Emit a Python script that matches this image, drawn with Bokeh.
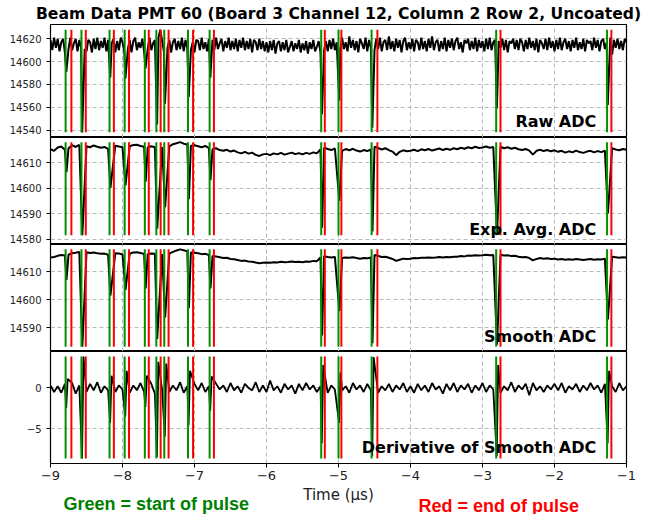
import numpy as np
from bokeh.plotting import figure
from bokeh.models import Range1d, FixedTicker, Label
from bokeh.layouts import column
from bokeh.embed import file_html
from bokeh.resources import INLINE

# ---------------- data ----------------
title_text = "Beam Data PMT 60 (Board 3 Channel 12, Column 2 Row 2, Uncoated)"
panel_names = ["Raw ADC", "Exp. Avg. ADC", "Smooth ADC", "Derivative of Smooth ADC"]
x_label = "Time (\u03bcs)"
legend_green = "Green = start of pulse"
legend_red = "Red = end of pulse"
x_ticks = [-9, -8, -7, -6, -5, -4, -3, -2, -1]
raw_yticks = [14540, 14560, 14580, 14600, 14620]
exp_yticks = [14580, 14590, 14600, 14610]
smooth_yticks = [14590, 14600, 14610]
deriv_yticks = [-5, 0]

# pulse start (green) and end (red) times, microseconds
pulse_start = [-8.79, -8.57, -8.18, -7.97, -7.69, -7.53, -7.42, -7.09, -6.79,
               -5.24, -5.00, -4.54, -2.81, -1.27]
pulse_end = [-8.71, -8.51, -8.12, -7.91, -7.635, -7.47, -7.36, -7.02, -6.73,
             -5.19, -4.96, -4.46, -2.75, -1.21]

# raw ADC: baseline level + sample offsets (every 0.025 us)
raw_level = 14615
raw_offsets = [
    4, -5, 6, -3, 5, -6, 2, 5, -7, 3, -4, 6, -5, 1, 5, -6, 4, -3, 6, -4,
    -6, 4, 2, -7, 5, -4, 6, -5, 3, -3, 6, -6, 4, -4, 1, 5, -7, 3, -5, 6,
    2, -6, 5, -4, 4, -7, 3, 6, -5, 2, -3, 5, -6, 4, -4, 6, -5, 1, 4, -6,
    6, 13, 3, -6, 5, -3, 4, -7, 2, 5, -5, 3, -4, 6, -6, 4, -3, 5, -5, 2,
    -7, 4, 3, -5, 6, -4, 2, -6, 5, -3, 4, -5, 6, -4, 1, 5, -6, 3, -3, 6,
    -5, 3, -4, 5, -6, 4, -3, 6, -5, 3, -4, 5, -7, 4, 2, -5, 5, -4, 3, -6,
    2, -7, 3, -5, 4, -8, 1, 3, -6, 2, -5, 4, -7, -2, 3, -6, 1, -4, 4, -7,
    1, -5, 3, -8, 2, -4, 4, -6, -2, 3, -7, 2, -5, 3, -6, 4, -4, 5, -5, 2,
    5, -5, 6, -4, 2, -6, 7, -3, 4, -5, 3, -7, 5, 1, -4, 6, -6, 4, -3, 3,
    -5, 5, -4, 6, -6, 2, 4, -5, 7, -4, 3, -6, 5, -3, 4, -7, 3, 6, -5, 2,
    -4, 5, -6, 4, 2, -5, 6, -4, 3, -6, 5, -3, 7, -5, 2, 4, -6, 3, -4, 6,
    -6, 4, -3, 5, -5, 3, 6, -4, 2, -7, 4, 1, 5, -5, 3, -4, 6, -6, 4, -3,
    3, -6, 5, -4, 6, -5, 2, 4, -6, 3, -3, 5, -5, 4, -7, 3, 1, 5, -4, 4,
    -5, 5, 2, -6, 4, -4, 6, -3, 3, -5, 5, -7, 4, 1, -4, 5, -5, 6, -3, 3,
    -6, 4, -4, 6, -5, 2, 5, -4, 3, -6, 4, -3, 6, -5, 2, -4, 5, -6, 4, 1,
    3, -5, 6, -3, 4, -6, 3, 5, -4, 2, -5, 6, -9, 4, -3, 5, -4, 3, -5, 5,
    2,
]
raw_pulse_min = [14591, 14538, 14586, 14585, 14594, 14545, 14563, 14569, 14586,
                 14554, 14566, 14542, 14559, 14562]

# exponential average ADC baseline (every 0.05 us)
exp_baseline = [
    14615.2, 14614.6, 14615.9, 14616.3, 14615.0, 14615.6, 14616.8, 14616.1, 14616.9, 14617.2,
    14616.4, 14616.0, 14616.7, 14616.2, 14615.8, 14616.1, 14615.4, 14616.0, 14616.6, 14616.3,
    14616.0, 14615.3, 14616.4, 14616.9, 14617.0, 14616.5, 14616.2, 14615.9, 14616.4, 14616.0,
    14616.6, 14616.1, 14615.7, 14616.3, 14617.2, 14617.6, 14618.0, 14617.4, 14617.1, 14616.6,
    14616.8, 14616.4, 14616.0, 14616.5, 14615.7, 14615.2, 14615.6, 14614.9, 14614.6, 14615.0,
    14614.3, 14614.7, 14614.0, 14613.6, 14614.2, 14613.5, 14613.9, 14613.0, 14612.6, 14613.2,
    14613.4, 14612.9, 14613.6, 14613.2, 14613.8, 14613.1, 14613.5, 14613.9, 14613.3, 14613.7,
    14613.2, 14613.8, 14613.4, 14614.0, 14613.6, 14615.2, 14615.8, 14615.3, 14614.9, 14615.5,
    14615.0, 14614.6, 14615.3, 14614.8, 14615.4, 14614.7, 14614.3, 14614.9, 14614.5, 14615.1,
    14616.2, 14615.7, 14615.1, 14615.6, 14614.9, 14614.3, 14612.9, 14614.2, 14614.8, 14614.4,
    14614.6, 14615.0, 14614.5, 14615.2, 14614.8, 14615.3, 14614.7, 14615.1, 14615.5, 14614.9,
    14615.4, 14615.0, 14615.6, 14615.2, 14615.8, 14615.4, 14616.0, 14615.6, 14616.2, 14615.7,
    14615.9, 14616.3, 14615.8, 14616.1, 14616.8, 14616.2, 14615.6, 14616.0, 14615.4, 14615.8,
    14615.2, 14614.9, 14615.3, 14614.7, 14613.1, 14614.6, 14615.0, 14614.5, 14614.9, 14614.4,
    14614.8, 14614.2, 14614.6, 14613.9, 14614.4, 14614.0, 14614.7, 14614.1, 14613.8, 14614.3,
    14614.6, 14614.0, 14614.5, 14614.1, 14614.7, 14614.3, 14615.6, 14615.1, 14614.8, 14615.3,
    14615.0,
]
exp_pulse_min = [14606.2, 14581.5, 14600.0, 14601.0, 14602.5, 14584.0, 14592.5, 14595.6, 14603.1,
                 14584.4, 14595.0, 14583.0, 14582.0, 14590.0]

# smoothed ADC baseline (every 0.05 us)
smooth_baseline = [
    14615.0, 14615.2, 14615.6, 14615.9, 14615.7, 14616.0, 14616.5, 14616.7, 14617.0, 14617.2,
    14616.9, 14616.6, 14616.8, 14616.5, 14616.3, 14616.4, 14616.0, 14616.2, 14616.5, 14616.4,
    14616.1, 14616.0, 14616.4, 14616.8, 14616.9, 14616.6, 14616.3, 14616.2, 14616.4, 14616.3,
    14616.5, 14616.2, 14616.0, 14616.4, 14617.0, 14617.5, 14617.9, 14617.6, 14617.2, 14616.8,
    14616.7, 14616.5, 14616.2, 14616.3, 14615.9, 14615.5, 14615.4, 14615.1, 14614.8, 14614.9,
    14614.5, 14614.4, 14614.1, 14613.8, 14613.9, 14613.6, 14613.5, 14613.2, 14613.0, 14613.1,
    14613.2, 14613.1, 14613.3, 14613.2, 14613.5, 14613.3, 14613.4, 14613.6, 14613.4, 14613.5,
    14613.3, 14613.6, 14613.5, 14613.8, 14613.7, 14615.0, 14615.5, 14615.2, 14615.0, 14615.2,
    14615.0, 14614.8, 14615.0, 14614.9, 14615.1, 14614.8, 14614.6, 14614.8, 14614.7, 14615.0,
    14615.9, 14615.6, 14615.2, 14615.3, 14614.9, 14614.5, 14613.8, 14614.2, 14614.6, 14614.5,
    14614.6, 14614.8, 14614.7, 14614.9, 14614.9, 14615.0, 14614.9, 14615.0, 14615.2, 14615.0,
    14615.2, 14615.1, 14615.3, 14615.3, 14615.5, 14615.4, 14615.7, 14615.6, 14615.8, 14615.7,
    14615.8, 14616.0, 14615.8, 14615.9, 14616.3, 14616.0, 14615.7, 14615.8, 14615.5, 14615.6,
    14615.3, 14615.1, 14615.2, 14614.8, 14614.0, 14614.5, 14614.8, 14614.6, 14614.7, 14614.5,
    14614.6, 14614.3, 14614.5, 14614.2, 14614.4, 14614.2, 14614.5, 14614.3, 14614.1, 14614.3,
    14614.5, 14614.2, 14614.4, 14614.3, 14614.6, 14614.5, 14615.3, 14615.1, 14614.9, 14615.1,
    14615.0,
]
smooth_pulse_min = [14607.0, 14583.3, 14601.4, 14603.5, 14604.0, 14586.0, 14593.7, 14597.0, 14604.0,
                    14587.3, 14596.0, 14584.5, 14584.0, 14593.0]

# derivative of smoothed ADC (every 0.05 us)
deriv_baseline = [
    0.3, -0.5, 0.2, -0.6, 0.5, -0.2, 0.6, -0.7, 0.3, 0.0, -0.5, 0.5, -0.3, 0.7, -0.6, 0.2, -0.3, 0.5, -0.5, 0.3,
    -0.2, 0.5, -0.6, 0.3, -0.3, 0.6, -0.5, 0.2, 0.5, -0.7, 0.3, -0.2, 0.6, -0.5, 0.3, -0.3, 0.7, -0.6, 0.2, -0.3,
    0.5, -0.3, 0.6, -0.5, 0.2, -0.6, 0.5, -0.2, 0.3, -0.5, 0.6, -0.3, 0.2, -0.6, 0.5, 0.0, -0.3, 0.7, -0.5, 0.3,
    -0.5, 0.9, -0.3, 0.2, -0.6, 0.5, -0.2, 0.3, -0.7, 0.5, -0.3, 0.6, -0.2, 0.3, -0.5, 0.2, 0.6, -0.6, 0.3, -0.2,
    0.5, -0.3, 0.2, -0.6, 0.6, -0.2, 0.3, -0.5, 0.5, -0.3, 0.7, -0.6, 0.2, -0.3, 0.5, -0.5, 0.3, -0.2, 0.6, -0.5,
    0.2, -0.6, 0.5, -0.3, 0.3, -0.5, 0.6, -0.2, 0.2, -0.7, 0.5, -0.3, 0.6, -0.5, 0.3, -0.2, 0.5, -0.6, 0.3, -0.3,
    0.6, -0.5, 0.3, -0.2, 0.5, -0.6, 0.2, -0.3, 0.7, -0.5, 0.3, -0.2, 0.5, -0.9, 0.6, -0.3, 0.2, -0.5, 0.3, -0.2,
    0.5, -0.3, 0.6, -0.6, 0.2, -0.2, 0.5, -0.5, 0.3, -0.3, 0.6, -0.2, 0.3, -0.6, 0.5, -0.3, 0.2, -0.5, 0.6, -0.3,
    0.2,
]
deriv_pulse_neg = [-2.5, -8.67, -4.3, -3.5, -2.35, -8.5, -6.0, -4.6, -2.8, -6.8, -4.3, -8.4, -8.4, -6.8]
deriv_pulse_pos = [1.1, 3.85, 1.5, 2.1, 1.5, 3.2, 3.0, 2.1, 1.4, 2.8, 1.9, 3.8, 2.8, 2.1]

# ---------------- build traces ----------------
starts = np.array(pulse_start)
ends = np.array(pulse_end)


def merge(base_vals, extras, window):
    bv = np.asarray(base_vals, dtype=float)
    bt = np.linspace(-9, -1, len(bv))
    keep = np.ones(len(bt), dtype=bool)
    for s in starts:
        keep &= ~((bt >= s) & (bt < s + window))
    t = [bt[keep]]
    v = [bv[keep]]
    for dt, vals in extras:
        t.append(starts + dt)
        v.append(np.asarray(vals, dtype=float))
    t = np.concatenate(t)
    v = np.concatenate(v)
    order = np.argsort(t, kind="stable")
    return t[order], v[order]


raw_t, raw_v = merge(raw_level + np.asarray(raw_offsets), [(0.01, raw_pulse_min)], 0.022)
exp_t, exp_v = merge(exp_baseline, [(0.012, exp_pulse_min)], 0.035)
smo_t, smo_v = merge(smooth_baseline, [(0.012, smooth_pulse_min)], 0.035)
der_t, der_v = merge(deriv_baseline, [(0.008, deriv_pulse_neg), (0.028, deriv_pulse_pos)], 0.045)

# ---------------- figures ----------------
W = 649
LEFT = 50
RIGHT = 23
FONT = "DejaVu Sans"
x_range = Range1d(-9, -1)


def minus(v):
    return str(v).replace("-", "\u2212")


def make_panel(t, v, yticks, name, height, lw, frame_h, low_tick_gap=0.0):
    vmin, vmax = float(v.min()), float(v.max())
    pad = 0.05 * (vmax - vmin)
    y0, y1 = vmin - pad, vmax + pad
    if low_tick_gap > 0:
        # keep the lowest tick label inside this panel
        f = low_tick_gap / frame_h
        y0 = (yticks[0] - f * y1) / (1.0 - f)
    p = figure(width=W, height=height, x_range=x_range, y_range=Range1d(y0, y1),
               output_backend="svg", toolbar_location=None,
               min_border_left=LEFT, min_border_right=RIGHT,
               min_border_top=0, min_border_bottom=0)
    p.background_fill_color = "white"
    p.border_fill_color = "white"
    p.outline_line_color = "black"
    p.outline_line_width = 1.2
    p.outline_line_alpha = 1.0

    p.xaxis.ticker = FixedTicker(ticks=x_ticks)
    p.xgrid.ticker = FixedTicker(ticks=x_ticks)
    p.yaxis.ticker = FixedTicker(ticks=yticks)
    p.ygrid.ticker = FixedTicker(ticks=yticks)
    for g in (p.xgrid, p.ygrid):
        g.grid_line_color = "#b8b8b8"
        g.grid_line_dash = "4 3"
        g.grid_line_width = 1

    ya = p.yaxis[0]
    ya.major_label_overrides = {k: minus(k) for k in yticks}
    ya.major_label_text_font = FONT
    ya.major_label_text_font_size = "10px"
    ya.major_label_text_color = "#222222"
    ya.major_label_standoff = 5
    ya.major_tick_out = 4
    ya.major_tick_in = 0
    ya.minor_tick_out = 0
    ya.minor_tick_in = 0
    ya.axis_line_color = "black"
    ya.major_tick_line_color = "black"

    p.line(t, v, line_color="black", line_width=lw)
    p.segment(x0=starts, y0=vmin, x1=starts, y1=vmax, line_color="#009000", line_width=2)
    p.segment(x0=ends, y0=vmin, x1=ends, y1=vmax, line_color="#ff0000", line_width=2)

    p.add_layout(Label(x=-1.42, y=y0 + 0.055 * (y1 - y0), text=name,
                       text_align="right", text_baseline="bottom",
                       text_font=FONT, text_font_size="16px", text_font_style="bold",
                       text_color="black"))
    return p, y0, y1


p1, _, _ = make_panel(raw_t, raw_v, raw_yticks, panel_names[0], 137, 2.0, 107)
p1.xaxis.visible = False
p1.title.text = title_text
p1.title.align = "center"
p1.title.vertical_align = "bottom"
p1.title.text_font = FONT
p1.title.text_font_size = "15.6px"
p1.title.text_font_style = "bold"
p1.title.text_color = "black"
p1.title.standoff = 4
p1.title.offset = 0

p2, _, _ = make_panel(exp_t, exp_v, exp_yticks, panel_names[1], 107, 2.0, 107, low_tick_gap=5.5)
p2.xaxis.visible = False

p3, _, _ = make_panel(smo_t, smo_v, smooth_yticks, panel_names[2], 107, 2.0, 107)
p3.xaxis.visible = False

p4, d0, d1 = make_panel(der_t, der_v, deriv_yticks, panel_names[3], 131, 1.8, 109)
xa = p4.xaxis[0]
xa.major_label_overrides = {k: minus(k) for k in x_ticks}
xa.major_label_text_font = FONT
xa.major_label_text_font_size = "13px"
xa.major_label_text_color = "#222222"
xa.major_label_standoff = 3
xa.major_tick_out = 4
xa.major_tick_in = 0
xa.minor_tick_out = 0
xa.minor_tick_in = 0
xa.axis_line_color = "black"
xa.major_tick_line_color = "black"

# bottom strip: axis title and colour key
H5 = 32
p5 = figure(width=W, height=H5, x_range=x_range, y_range=Range1d(0, H5),
            output_backend="svg", toolbar_location=None,
            x_axis_type=None, y_axis_type=None,
            min_border_left=LEFT, min_border_right=RIGHT,
            min_border_top=0, min_border_bottom=0)
p5.outline_line_color = None
p5.background_fill_color = "white"
p5.border_fill_color = "white"
p5.add_layout(Label(x=-5.0, y=H5 - 12, text=x_label, text_align="center",
                    text_baseline="middle", text_font=FONT, text_font_size="15px",
                    text_color="#222222"))
p5.add_layout(Label(x=-8.82, y=H5 - 21, text=legend_green, text_align="left",
                    text_baseline="middle", text_font="Liberation Sans",
                    text_font_size="18px", text_font_style="bold", text_color="#008000"))
p5.add_layout(Label(x=-3.89, y=H5 - 23, text=legend_red, text_align="left",
                    text_baseline="middle", text_font="Liberation Sans",
                    text_font_size="18px", text_font_style="bold", text_color="#ff0000"))

layout = column(p1, p2, p3, p4, p5, spacing=0)
open("out.html", "w").write(file_html(layout, INLINE))
